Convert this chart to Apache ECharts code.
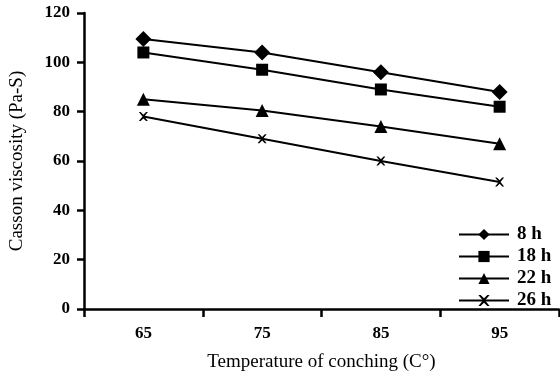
<!DOCTYPE html>
<html>
<head>
<meta charset="utf-8">
<script src="https://cdn.jsdelivr.net/npm/echarts@6/dist/echarts.min.js"></script>
<style>
  html, body { margin: 0; padding: 0; background: #fff; }
  #chart { width: 560px; height: 374px; }
</style>
</head>
<body>
<div id="chart"></div>
<script>
const temps = ['65', '75', '85', '95']
const h8 = [109.5, 104, 96, 88]
const h18 = [104, 97, 89, 82]
const h22 = [85, 80.5, 74, 67]
const h26 = [78, 69, 60, 51.5]
const seriesNames = ['8 h', '18 h', '22 h', '26 h']

// x-shaped marker
const crossPath = 'path://M0,0L2,0L5,3L8,0L10,0L6,5L10,10L8,10L5,7L2,10L0,10L4,5Z'

const chart = echarts.init(document.getElementById('chart'))

const mk = (name, data, symbol, size) => ({
  name,
  type: 'line',
  data,
  symbol,
  symbolSize: size,
  showAllSymbol: true,
  lineStyle: { color: '#000', width: 2 },
  itemStyle: { color: '#000' },
  emphasis: { disabled: true },
})

chart.setOption({
  animation: false,
  textStyle: { fontFamily: 'Liberation Serif', color: '#000' },
  grid: { left: 84, top: 13, right: 1, bottom: 65, outerBoundsMode: 'none', containLabel: false },
  legend: {
    left: 453,
    top: 220,
    orient: 'vertical',
    itemWidth: 50,
    itemHeight: 14,
    itemGap: 3,
    data: seriesNames,
    textStyle: { fontFamily: 'Liberation Serif', fontSize: 19, fontWeight: 'bold', color: '#000', padding: [0, 0, 0, 3] },
  },
  xAxis: {
    type: 'category',
    data: temps,
    boundaryGap: true,
    name: 'Temperature of conching (C°)',
    nameLocation: 'middle',
    nameGap: 44,
    nameTextStyle: { fontFamily: 'Liberation Serif', fontSize: 19, color: '#000' },
    axisLine: { lineStyle: { color: '#000', width: 2.5 } },
    axisTick: { show: true, length: 8, lineStyle: { color: '#000', width: 2.5 } },
    axisLabel: { margin: 16, fontFamily: 'Liberation Serif', fontSize: 17, fontWeight: 'bold', color: '#000' },
    splitLine: { show: false },
  },
  yAxis: {
    type: 'value',
    min: 0,
    max: 120,
    interval: 20,
    name: 'Casson viscosity (Pa-S)',
    nameLocation: 'middle',
    nameGap: 57,
    nameRotate: 90,
    nameTextStyle: { fontFamily: 'Liberation Serif', fontSize: 19, color: '#000' },
    axisLine: { show: true, lineStyle: { color: '#000', width: 2.5 } },
    axisTick: { show: true, length: 7, lineStyle: { color: '#000', width: 2.5 } },
    axisLabel: { margin: 14, fontFamily: 'Liberation Serif', fontSize: 17, fontWeight: 'bold', color: '#000' },
    splitLine: { show: false },
  },
  series: [
    mk(seriesNames[0], h8, 'diamond', 16),
    mk(seriesNames[1], h18, 'rect', 12),
    mk(seriesNames[2], h22, 'triangle', 13),
    mk(seriesNames[3], h26, crossPath, 9),
  ],
})
</script>
</body>
</html>
